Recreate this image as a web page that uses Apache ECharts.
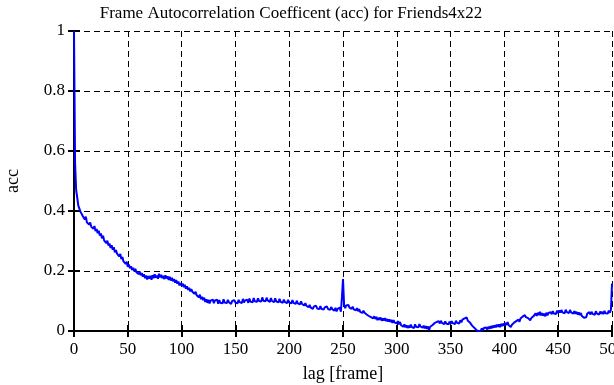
<!DOCTYPE html>
<html>
<head>
<meta charset="utf-8">
<script src="https://cdn.jsdelivr.net/npm/echarts@6/dist/echarts.min.js"></script>
<style>
  html, body { margin: 0; padding: 0; background: #fff; }
  #chart { width: 614px; height: 385px; }
</style>
</head>
<body>
<div id="chart"></div>
<script>
// acc value per lag, index = lag [frame]
const acc0to49 = [1.000, 0.560, 0.470, 0.445, 0.418, 0.412, 0.398, 0.402, 0.384, 0.379,
  0.372, 0.381, 0.362, 0.368, 0.355, 0.362, 0.348, 0.352, 0.341, 0.350,
  0.333, 0.340, 0.326, 0.334, 0.318, 0.325, 0.309, 0.318, 0.302, 0.306,
  0.293, 0.301, 0.285, 0.292, 0.277, 0.286, 0.271, 0.279, 0.262, 0.270,
  0.258, 0.264, 0.249, 0.257, 0.240, 0.247, 0.232, 0.238, 0.224, 0.231]
const acc50to99 = [0.214, 0.222, 0.209, 0.216, 0.203, 0.211, 0.199, 0.207, 0.196, 0.201,
  0.190, 0.198, 0.186, 0.193, 0.181, 0.189, 0.176, 0.185, 0.172, 0.183,
  0.175, 0.184, 0.171, 0.186, 0.176, 0.189, 0.178, 0.185, 0.174, 0.191,
  0.179, 0.187, 0.176, 0.184, 0.173, 0.186, 0.175, 0.182, 0.170, 0.181,
  0.168, 0.177, 0.166, 0.173, 0.161, 0.170, 0.158, 0.165, 0.152, 0.160]
const acc100to149 = [0.151, 0.158, 0.146, 0.154, 0.141, 0.149, 0.137, 0.144, 0.132, 0.140,
  0.131, 0.136, 0.124, 0.131, 0.119, 0.125, 0.112, 0.121, 0.106, 0.114,
  0.103, 0.111, 0.097, 0.106, 0.094, 0.104, 0.092, 0.101, 0.095, 0.105,
  0.093, 0.102, 0.096, 0.104, 0.091, 0.103, 0.094, 0.099, 0.092, 0.106,
  0.095, 0.101, 0.093, 0.104, 0.096, 0.102, 0.090, 0.100, 0.094, 0.103]
const acc150to199 = [0.095, 0.101, 0.092, 0.104, 0.096, 0.100, 0.093, 0.107, 0.095, 0.102,
  0.097, 0.104, 0.094, 0.108, 0.098, 0.103, 0.096, 0.110, 0.099, 0.105,
  0.097, 0.109, 0.100, 0.106, 0.098, 0.112, 0.101, 0.107, 0.099, 0.111,
  0.102, 0.108, 0.097, 0.110, 0.100, 0.106, 0.096, 0.109, 0.099, 0.104,
  0.095, 0.107, 0.097, 0.103, 0.094, 0.105, 0.096, 0.101, 0.093, 0.104]
const acc200to249 = [0.095, 0.100, 0.092, 0.103, 0.094, 0.098, 0.090, 0.101, 0.092, 0.096,
  0.089, 0.099, 0.090, 0.094, 0.085, 0.093, 0.084, 0.088, 0.079, 0.087,
  0.078, 0.083, 0.074, 0.082, 0.076, 0.084, 0.075, 0.081, 0.073, 0.083,
  0.074, 0.080, 0.071, 0.079, 0.073, 0.082, 0.074, 0.078, 0.070, 0.080,
  0.073, 0.079, 0.068, 0.077, 0.065, 0.074, 0.069, 0.078, 0.064, 0.112]
const acc250to299 = [0.173, 0.088, 0.076, 0.085, 0.079, 0.087, 0.078, 0.083, 0.074, 0.081,
  0.072, 0.078, 0.069, 0.076, 0.066, 0.073, 0.064, 0.070, 0.060, 0.068,
  0.061, 0.066, 0.055, 0.061, 0.050, 0.056, 0.046, 0.052, 0.042, 0.049,
  0.040, 0.047, 0.036, 0.044, 0.037, 0.045, 0.034, 0.042, 0.035, 0.043,
  0.033, 0.040, 0.031, 0.039, 0.030, 0.037, 0.027, 0.036, 0.028, 0.034]
const acc300to349 = [0.026, 0.033, 0.022, 0.030, 0.019, 0.025, 0.014, 0.022, 0.012, 0.019,
  0.010, 0.018, 0.011, 0.021, 0.013, 0.019, 0.010, 0.022, 0.014, 0.020,
  0.012, 0.023, 0.015, 0.019, 0.011, 0.018, 0.009, 0.016, 0.007, 0.015,
  0.003, 0.014, 0.010, 0.019, 0.015, 0.026, 0.021, 0.030, 0.024, 0.033,
  0.025, 0.034, 0.027, 0.031, 0.023, 0.032, 0.025, 0.030, 0.022, 0.031]
const acc350to399 = [0.024, 0.033, 0.026, 0.030, 0.023, 0.034, 0.027, 0.032, 0.025, 0.036,
  0.029, 0.038, 0.033, 0.042, 0.036, 0.045, 0.034, 0.040, 0.028, 0.031,
  0.018, 0.022, 0.011, 0.014, 0.003, 0.008, 0.000, 0.006, 0.001, 0.009,
  0.002, 0.010, 0.004, 0.012, 0.005, 0.014, 0.007, 0.016, 0.009, 0.018,
  0.011, 0.019, 0.012, 0.021, 0.014, 0.022, 0.013, 0.024, 0.016, 0.025]
const acc400to449 = [0.018, 0.027, 0.020, 0.030, 0.019, 0.024, 0.013, 0.021, 0.016, 0.028,
  0.023, 0.033, 0.027, 0.038, 0.031, 0.042, 0.037, 0.048, 0.042, 0.053,
  0.046, 0.052, 0.043, 0.047, 0.036, 0.043, 0.038, 0.049, 0.045, 0.059,
  0.050, 0.061, 0.053, 0.064, 0.052, 0.060, 0.051, 0.058, 0.049, 0.061,
  0.052, 0.060, 0.054, 0.063, 0.056, 0.066, 0.058, 0.064, 0.057, 0.068]
const acc450to500 = [0.060, 0.069, 0.061, 0.070, 0.062, 0.068, 0.059, 0.071, 0.063, 0.068,
  0.060, 0.070, 0.062, 0.067, 0.058, 0.066, 0.057, 0.064, 0.055, 0.062,
  0.053, 0.060, 0.050, 0.055, 0.044, 0.050, 0.046, 0.058, 0.052, 0.063,
  0.055, 0.064, 0.057, 0.062, 0.054, 0.066, 0.058, 0.063, 0.055, 0.065,
  0.057, 0.064, 0.056, 0.067, 0.059, 0.065, 0.058, 0.068, 0.061, 0.070,
  0.158]

const acc = [].concat(acc0to49, acc50to99, acc100to149, acc150to199, acc200to249,
  acc250to299, acc300to349, acc350to399, acc400to449, acc450to500)

const titleText = 'Frame Autocorrelation Coefficent (acc) for Friends4x22'
const xName = 'lag [frame]'
const yName = 'acc'

const font = 'Liberation Serif'

const chart = echarts.init(document.getElementById('chart'))

const frameLine = {show: true, lineStyle: {color: '#000', width: 2}}
const innerTick = {show: true, inside: true, length: 6, lineStyle: {color: '#000', width: 2}}
const dashed = {show: true, lineStyle: {color: '#000', width: 1, type: [6, 4]}}

const option = {
    animation: false,
    title: {
        text: titleText,
        left: 286,
        top: 0,
        textAlign: 'center',
        textStyle: {fontFamily: font, fontSize: 17, fontWeight: 'normal', color: '#000'}
    },
    grid: {
        left: 74,
        right: 2,
        top: 31,
        bottom: 54,
        containLabel: false,
        outerBoundsMode: 'none'
    },
    xAxis: [
        {
            type: 'value',
            position: 'bottom',
            min: 0,
            max: 500,
            interval: 50,
            name: xName,
            nameLocation: 'middle',
            nameGap: 34,
            nameTextStyle: {fontFamily: font, fontSize: 18, color: '#000'},
            axisLine: frameLine,
            axisTick: innerTick,
            axisLabel: {fontFamily: font, fontSize: 17, color: '#000', margin: 10},
            splitLine: dashed
        },
        {
            type: 'value',
            position: 'top',
            min: 0,
            max: 500,
            interval: 50,
            axisLine: frameLine,
            axisTick: innerTick,
            axisLabel: {show: false},
            splitLine: {show: false}
        }
    ],
    yAxis: [
        {
            type: 'value',
            position: 'left',
            min: 0,
            max: 1,
            interval: 0.2,
            name: yName,
            nameLocation: 'middle',
            nameRotate: 90,
            nameGap: 52,
            nameTextStyle: {fontFamily: font, fontSize: 18, color: '#000'},
            axisLine: frameLine,
            axisTick: innerTick,
            axisLabel: {fontFamily: font, fontSize: 17, color: '#000', margin: 9},
            splitLine: dashed
        },
        {
            type: 'value',
            position: 'right',
            min: 0,
            max: 1,
            interval: 0.2,
            axisLine: frameLine,
            axisTick: innerTick,
            axisLabel: {show: false},
            splitLine: {show: false}
        }
    ],
    series: [
        {
            type: 'line',
            data: acc.map((v, i) => [i, v]),
            showSymbol: false,
            symbol: 'none',
            lineStyle: {color: '#0000ff', width: 2},
            z: 5
        }
    ]
}

chart.setOption(option)
</script>
</body>
</html>
